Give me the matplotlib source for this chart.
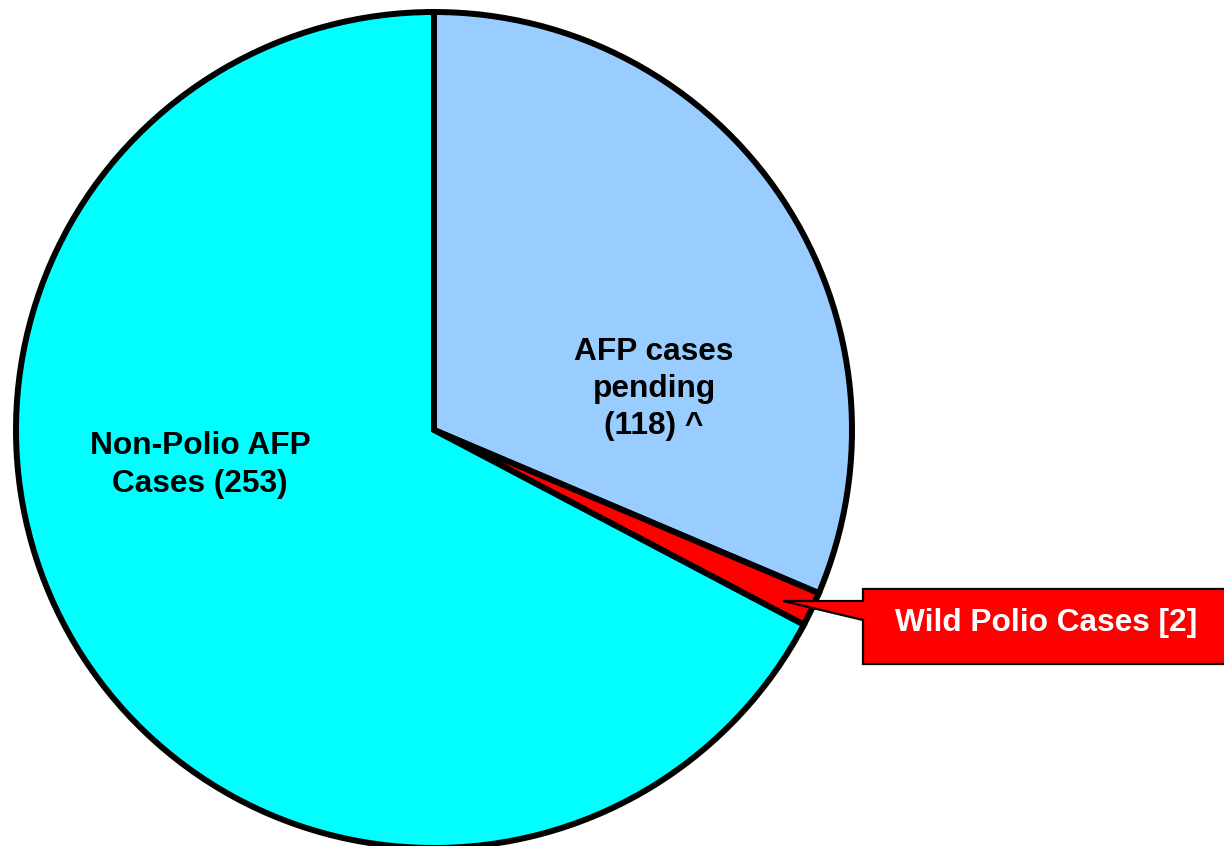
import matplotlib
matplotlib.use("Agg")
import matplotlib.pyplot as plt
from matplotlib.patches import Polygon

categories = ["AFP cases pending", "Wild Polio Cases", "Non-Polio AFP Cases"]
counts = [118, 2, 253]            # numbers printed in the labels
slice_values = [118, 5, 253]      # slice sizes as drawn in the picture
colors = ["#99CCFF", "#FF0000", "#00FFFF"]

W, H = 1224, 846
fig = plt.figure(figsize=(W / 100, H / 100), dpi=100)
ax = fig.add_axes([0, 0, 1, 1])

cx, cy, R = 434, H - 430, 418
ax.pie(slice_values, colors=colors, startangle=90, counterclock=False,
       center=(cx, cy), radius=R,
       wedgeprops=dict(edgecolor="black", linewidth=4.3, joinstyle="miter"))
ax.set_xlim(0, W)
ax.set_ylim(0, H)
ax.set_aspect("equal")
ax.axis("off")

font = dict(family=["Liberation Sans", "DejaVu Sans"], weight="bold", fontsize=22.8)

ax.text(654, H - 389, f"AFP cases\npending\n({counts[0]}) ^", ha="center", va="center",
        linespacing=1.31, color="black", **font)
ax.text(200, H - 465, f"Non-Polio AFP\nCases ({counts[2]})", ha="center", va="center",
        linespacing=1.31, color="black", **font)

# callout
poly = Polygon([(863, H - 589), (1240, H - 589), (1240, H - 664), (863, H - 664),
                (863, H - 620), (783, H - 601), (863, H - 601)],
               closed=True, facecolor="#FF0000", edgecolor="black", linewidth=1.6,
               joinstyle="miter", clip_on=False)
ax.add_patch(poly)
ax.text(1046, H - 623, f"Wild Polio Cases [{counts[1]}]", ha="center", va="center",
        color="white", **font)

fig.savefig("out.png", dpi=100, facecolor="white")
